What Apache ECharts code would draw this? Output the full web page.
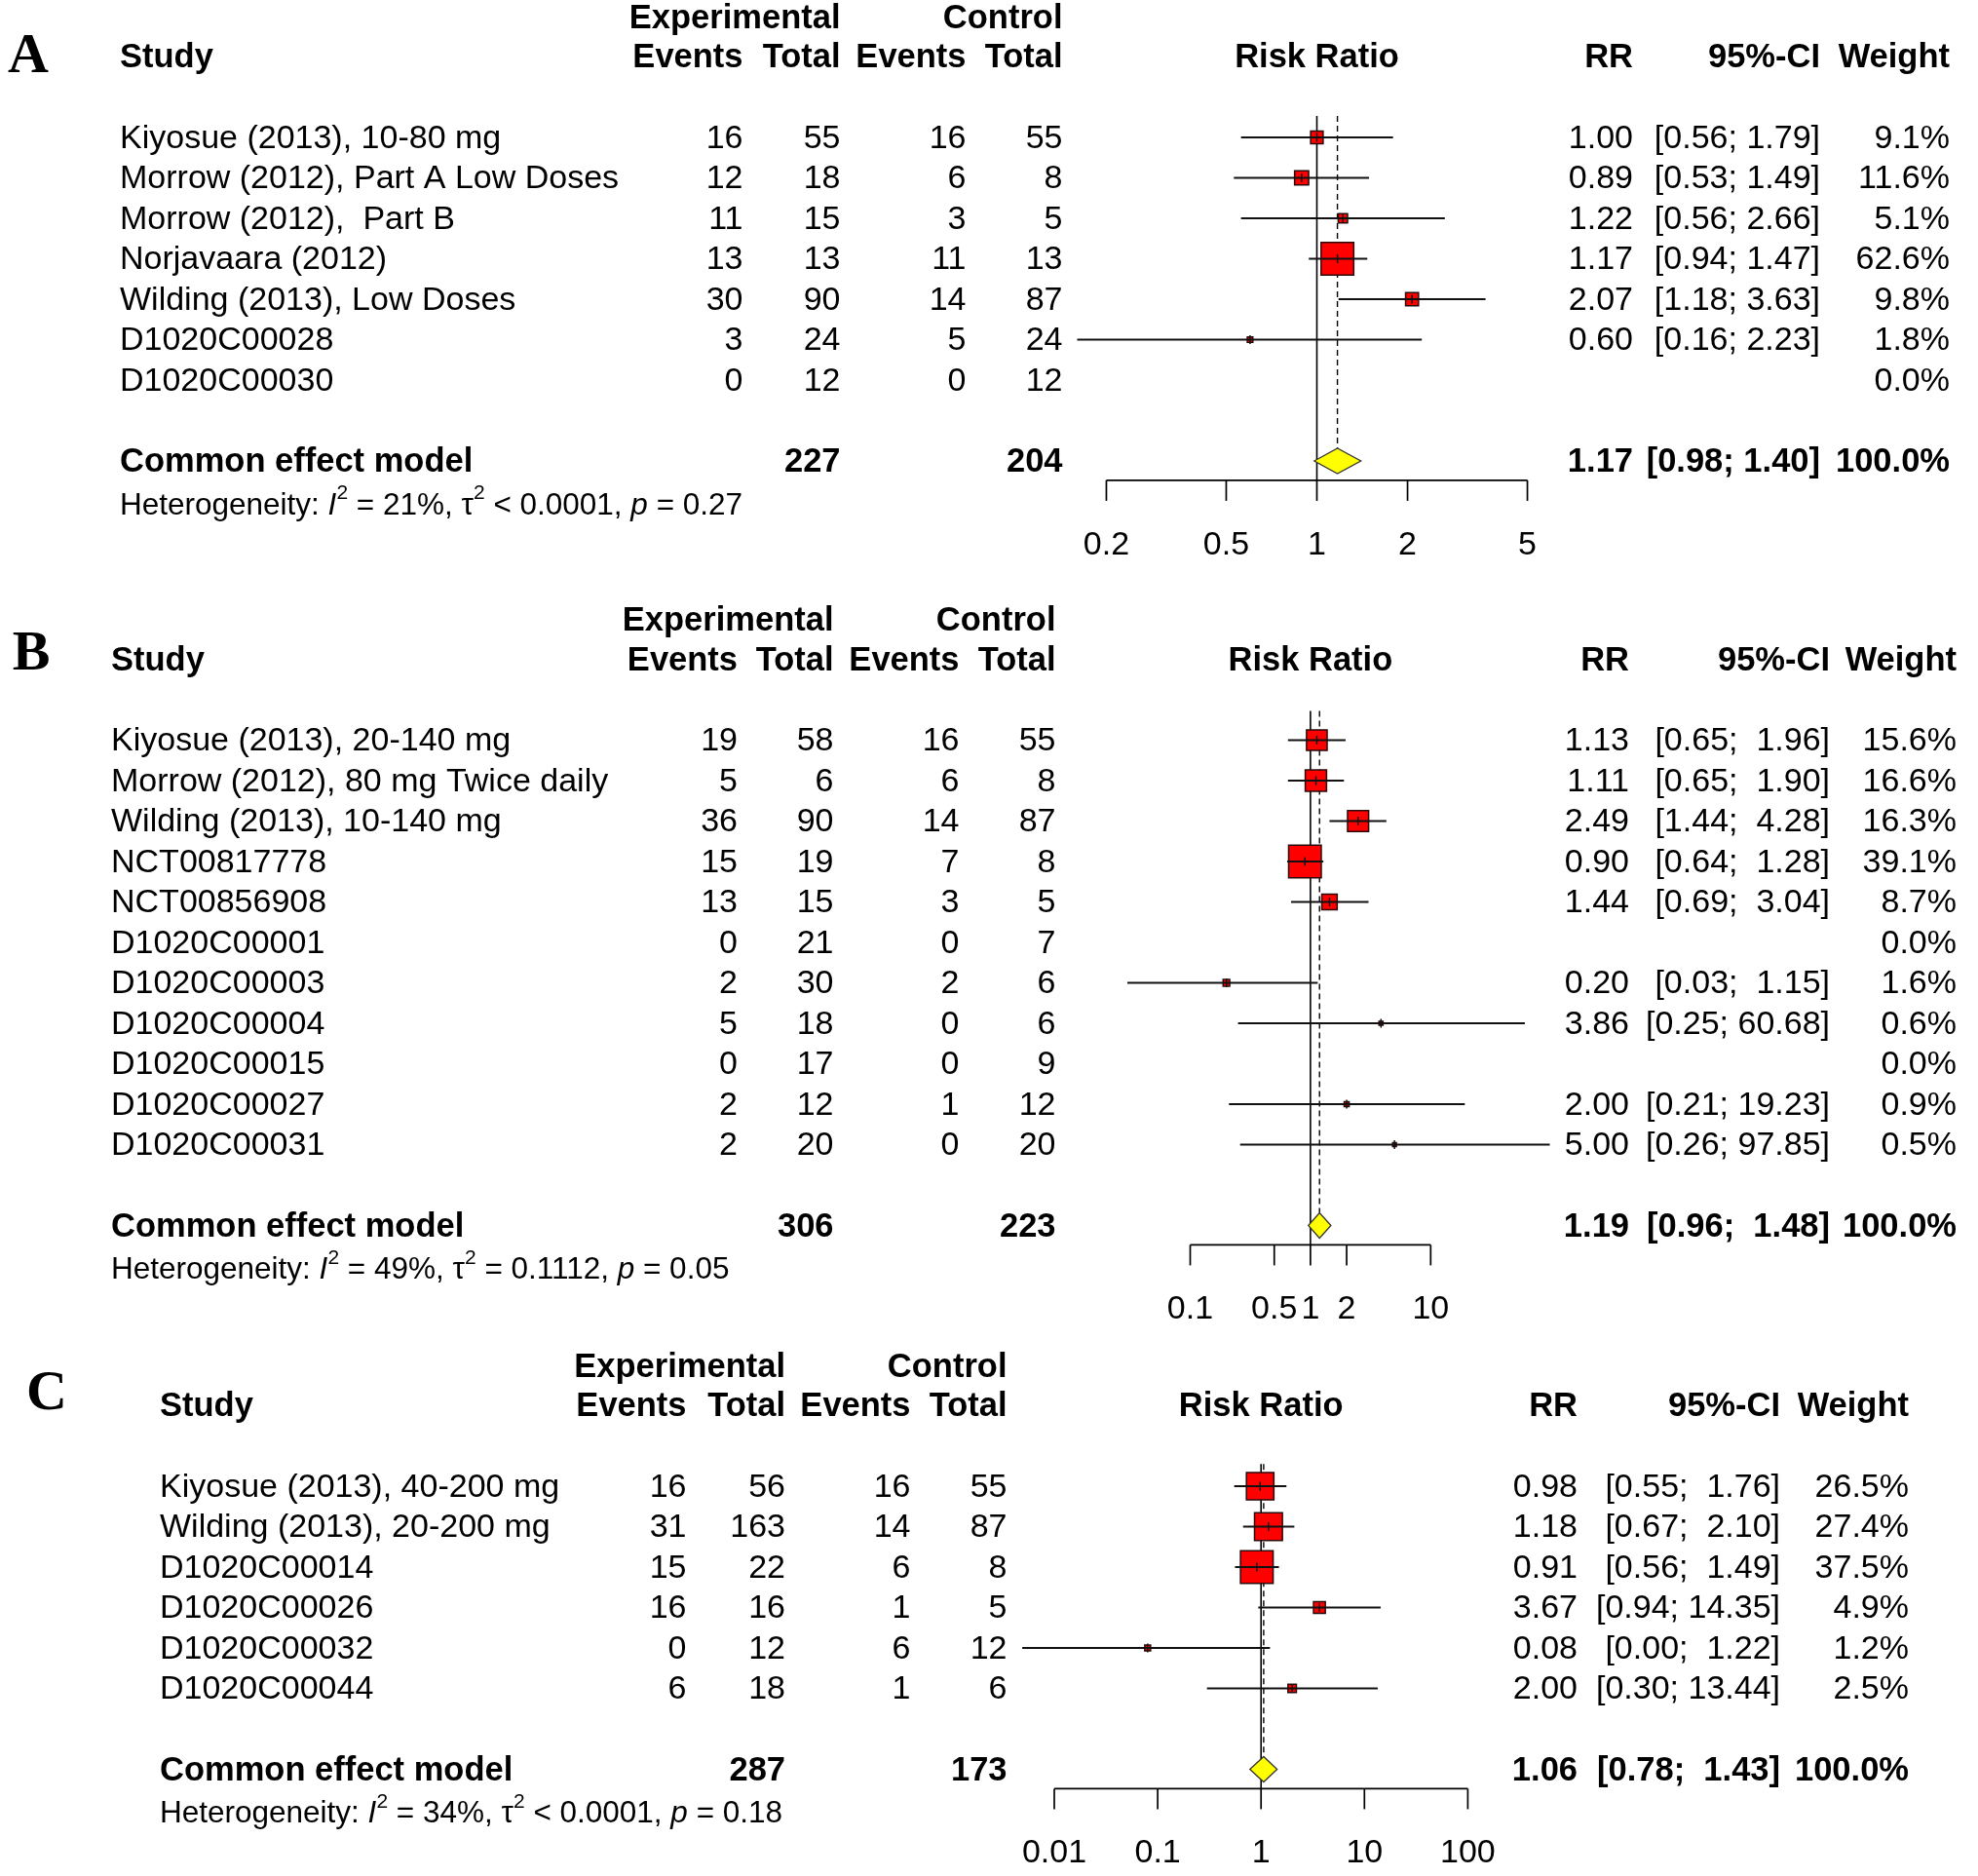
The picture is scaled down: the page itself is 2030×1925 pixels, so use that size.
<!DOCTYPE html>
<html><head><meta charset="utf-8">
<script src="https://cdn.jsdelivr.net/npm/echarts@6/dist/echarts.min.js"></script>
<style>html,body{margin:0;padding:0;background:#fff}#c{width:2030px;height:1925px}</style>
</head><body><div id="c"></div>
<script>
// ---------------- Panel A data ----------------
const studiesA = ["Kiyosue (2013), 10-80 mg", "Morrow (2012), Part A Low Doses", "Morrow (2012),  Part B", "Norjavaara (2012)", "Wilding (2013), Low Doses", "D1020C00028", "D1020C00030"];
const expEventsA = [16, 12, 11, 13, 30, 3, 0];
const expTotalA  = [55, 18, 15, 13, 90, 24, 12];
const ctrlEventsA = [16, 6, 3, 11, 14, 5, 0];
const ctrlTotalA  = [55, 8, 5, 13, 87, 24, 12];
const rrA = [1.00, 0.89, 1.22, 1.17, 2.07, 0.60, null];
const loA = [0.56, 0.53, 0.56, 0.94, 1.18, 0.16, null];
const hiA = [1.79, 1.49, 2.66, 1.47, 3.63, 2.23, null];
const weightA = [9.1, 11.6, 5.1, 62.6, 9.8, 1.8, 0.0];
const pooledA = [1.17, 0.98, 1.40, 100.0];
const totalsA = [227, 204];
const hetA = ["21%", "< 0.0001", "0.27"];
const ticksA = [0.2, 0.5, 1, 2, 5];

// ---------------- Panel B data ----------------
const studiesB = ["Kiyosue (2013), 20-140 mg", "Morrow (2012), 80 mg Twice daily", "Wilding (2013), 10-140 mg", "NCT00817778", "NCT00856908", "D1020C00001", "D1020C00003", "D1020C00004", "D1020C00015", "D1020C00027", "D1020C00031"];
const expEventsB = [19, 5, 36, 15, 13, 0, 2, 5, 0, 2, 2];
const expTotalB  = [58, 6, 90, 19, 15, 21, 30, 18, 17, 12, 20];
const ctrlEventsB = [16, 6, 14, 7, 3, 0, 2, 0, 0, 1, 0];
const ctrlTotalB  = [55, 8, 87, 8, 5, 7, 6, 6, 9, 12, 20];
const rrB = [1.13, 1.11, 2.49, 0.90, 1.44, null, 0.20, 3.86, null, 2.00, 5.00];
const loB = [0.65, 0.65, 1.44, 0.64, 0.69, null, 0.03, 0.25, null, 0.21, 0.26];
const hiB = [1.96, 1.90, 4.28, 1.28, 3.04, null, 1.15, 60.68, null, 19.23, 97.85];
const weightB = [15.6, 16.6, 16.3, 39.1, 8.7, 0.0, 1.6, 0.6, 0.0, 0.9, 0.5];
const pooledB = [1.19, 0.96, 1.48, 100.0];
const totalsB = [306, 223];
const hetB = ["49%", "= 0.1112", "0.05"];
const ticksB = [0.1, 0.5, 1, 2, 10];

// ---------------- Panel C data ----------------
const studiesC = ["Kiyosue (2013), 40-200 mg", "Wilding (2013), 20-200 mg", "D1020C00014", "D1020C00026", "D1020C00032", "D1020C00044"];
const expEventsC = [16, 31, 15, 16, 0, 6];
const expTotalC  = [56, 163, 22, 16, 12, 18];
const ctrlEventsC = [16, 14, 6, 1, 6, 1];
const ctrlTotalC  = [55, 87, 8, 5, 12, 6];
const rrC = [0.98, 1.18, 0.91, 3.67, 0.08, 2.00];
const loC = [0.55, 0.67, 0.56, 0.94, 0.0049, 0.30];
const hiC = [1.76, 2.10, 1.49, 14.35, 1.22, 13.44];
const weightC = [26.5, 27.4, 37.5, 4.9, 1.2, 2.5];
const pooledC = [1.06, 0.78, 1.43, 100.0];
const totalsC = [287, 173];
const hetC = ["34%", "< 0.0001", "0.18"];
const ticksC = [0.01, 0.1, 1, 10, 100];

// ---------------- layout (positions / styles only) ----------------
const FONT = "'Liberation Sans', Arial, Helvetica, sans-serif";
const SERIF = "'Liberation Serif', 'Times New Roman', serif";
const FS = 34, FS_BOLD = 34.5, FS_HET = 31.5, ROWH = 41.5, MAXSIDE = 33.5, DIAM_H = 13;

const panels = [
  { letter: 'A', studies: studiesA, expEv: expEventsA, expTot: expTotalA, ctrlEv: ctrlEventsA, ctrlTot: ctrlTotalA,
    rr: rrA, lo: loA, hi: hiA, weight: weightA, pooled: pooledA, totals: totalsA, het: hetA, ticks: ticksA,
    L: { row0: 141, common: 8, yMin: -3.2, yMax: 10.6, xMin: 0.1, xMax: 10, gridLeft: 1042.4, gridRight: 1660.6,
         studyX: 123, cols: [762.5, 862.5, 991.5, 1090.5], rrX: 1676, ciX: 1868, wX: 2001, letterX: 29, letterRow: -2.0, lineTop: -0.53 } },
  { letter: 'B', studies: studiesB, expEv: expEventsB, expTot: expTotalB, ctrlEv: ctrlEventsB, ctrlTot: ctrlTotalB,
    rr: rrB, lo: loB, hi: hiB, weight: weightB, pooled: pooledB, totals: totalsB, het: hetB, ticks: ticksB,
    L: { row0: 759.5, common: 12, yMin: -3.2, yMax: 14.6, xMin: 0.01, xMax: 100, gridLeft: 1098.1, gridRight: 1591.7,
         studyX: 114, cols: [757, 855.5, 984.5, 1083.5], rrX: 1672, ciX: 1878, wX: 2008, letterX: 32, letterRow: -2.14, lineTop: -0.72 } },
  { letter: 'C', studies: studiesC, expEv: expEventsC, expTot: expTotalC, ctrlEv: ctrlEventsC, ctrlTot: ctrlTotalC,
    rr: rrC, lo: loC, hi: hiC, weight: weightC, pooled: pooledC, totals: totalsC, het: hetC, ticks: ticksC,
    L: { row0: 1525, common: 7, yMin: -3.2, yMax: 9.6, xMin: 0.001, xMax: 1000, gridLeft: 975.9, gridRight: 1612.5,
         studyX: 164, cols: [704.5, 806, 934.5, 1033.5], rrX: 1619, ciX: 1827, wX: 1959, letterX: 48, letterRow: -2.31, lineTop: -0.55 } }
];

function ciText(lo, hi, width) {
  const h = hi.toFixed(2);
  return '[' + lo.toFixed(2) + ';' + ' '.repeat(1 + width - h.length) + h + ']';
}

function buildCells(P) {
  const L = P.L, cells = [];
  const add = (row, text, opt) => {
    const c = Object.assign({ row: row, text: text, size: FS, font: FONT, bold: false, align: 'right' }, opt);
    if (c.bold && !opt.size) c.size = FS_BOLD;
    cells.push(c);
  };
  const hiAll = P.hi.filter(v => v != null).concat([P.pooled[2]]).map(v => v.toFixed(2).length);
  const w = Math.max.apply(null, hiAll);
  add(L.letterRow, P.letter, { x: L.letterX, align: 'center', font: SERIF, size: 58, bold: true });
  add(-2.97, 'Experimental', { x: L.cols[1], bold: true });
  add(-2.97, 'Control', { x: L.cols[3], bold: true });
  add(-2, 'Study', { x: L.studyX, align: 'left', bold: true });
  ['Events', 'Total', 'Events', 'Total'].forEach((t, j) => add(-2, t, { x: L.cols[j], bold: true }));
  add(-2, 'Risk Ratio', { xv: 1, align: 'center', bold: true });
  add(-2, 'RR', { x: L.rrX, bold: true });
  add(-2, '95%-CI', { x: L.ciX, bold: true });
  add(-2, 'Weight', { x: L.wX, bold: true });
  P.studies.forEach((s, i) => {
    add(i, s, { x: L.studyX, align: 'left' });
    [P.expEv[i], P.expTot[i], P.ctrlEv[i], P.ctrlTot[i]].forEach((v, j) => add(i, String(v), { x: L.cols[j] }));
    if (P.rr[i] != null) {
      add(i, P.rr[i].toFixed(2), { x: L.rrX });
      add(i, ciText(P.lo[i], P.hi[i], w), { x: L.ciX });
    }
    add(i, P.weight[i].toFixed(1) + '%', { x: L.wX });
  });
  const c = L.common;
  add(c, 'Common effect model', { x: L.studyX, align: 'left', bold: true });
  add(c, String(P.totals[0]), { x: L.cols[1], bold: true });
  add(c, String(P.totals[1]), { x: L.cols[3], bold: true });
  add(c, P.pooled[0].toFixed(2), { x: L.rrX, bold: true });
  add(c, ciText(P.pooled[1], P.pooled[2], w), { x: L.ciX, bold: true });
  add(c, P.pooled[3].toFixed(1) + '%', { x: L.wX, bold: true });
  add(c + 1.07, 'Heterogeneity: {i|I}{s|2} = ' + P.het[0] + ', \u03c4{s|2} ' + P.het[1] + ', {i|p} = ' + P.het[2],
      { x: L.studyX, align: 'left', size: FS_HET, het: true });
  P.ticks.forEach(t => add(c + 2.05, String(t), { xv: t, align: 'center' }));
  return cells;
}

const series = [];
panels.forEach((P, k) => {
  const L = P.L;
  const axisRow = L.common + 0.48;
  // reference lines: null effect (solid) and pooled estimate (dashed)
  series.push({
    type: 'custom', xAxisIndex: k, yAxisIndex: k, z: 1, silent: true,
    data: [[1, L.lineTop, axisRow], [P.pooled[0], L.lineTop, L.common]],
    renderItem: (params, api) => {
      const a = api.coord([api.value(0), api.value(1)]);
      const b = api.coord([api.value(0), api.value(2)]);
      if (params.dataIndex === 0) {
        return { type: 'line', shape: { x1: a[0], y1: a[1], x2: b[0], y2: b[1] }, style: { stroke: '#000', lineWidth: 1.6 } };
      }
      return { type: 'line', shape: { x1: a[0], y1: a[1], x2: b[0], y2: b[1] - DIAM_H }, style: { stroke: '#000', lineWidth: 1.4, lineDash: [6, 4] } };
    }
  });
  // axis
  const t0 = P.ticks[0], t1 = P.ticks[P.ticks.length - 1];
  series.push({
    type: 'custom', xAxisIndex: k, yAxisIndex: k, z: 2, silent: true,
    data: P.ticks.map(t => [t, axisRow]),
    renderItem: (params, api) => {
      const p = api.coord([api.value(0), api.value(1)]);
      const children = [{ type: 'line', shape: { x1: p[0], y1: p[1], x2: p[0], y2: p[1] + 21 }, style: { stroke: '#000', lineWidth: 1.7 } }];
      if (params.dataIndex === 0) {
        const a = api.coord([t0, axisRow]), b = api.coord([t1, axisRow]);
        children.push({ type: 'line', shape: { x1: a[0], y1: a[1], x2: b[0], y2: b[1] }, style: { stroke: '#000', lineWidth: 1.7 } });
      }
      return { type: 'group', children: children };
    }
  });
  // studies: CI lines + squares
  const wmax = Math.max.apply(null, P.weight);
  const fd = [];
  P.rr.forEach((v, i) => { if (v != null) fd.push([v, i, P.lo[i], P.hi[i], P.weight[i]]); });
  series.push({
    type: 'custom', xAxisIndex: k, yAxisIndex: k, z: 3, silent: true,
    data: fd,
    renderItem: (params, api) => {
      const row = api.value(1);
      const p = api.coord([api.value(0), row]);
      const l = api.coord([api.value(2), row]);
      const h = api.coord([api.value(3), row]);
      const s = MAXSIDE * Math.sqrt(api.value(4) / wmax);
      return { type: 'group', children: [
        { type: 'rect', shape: { x: p[0] - s / 2, y: p[1] - s / 2, width: s, height: s }, style: { fill: '#ff0000', stroke: '#2a0a0a', lineWidth: 1.5 } },
        { type: 'line', shape: { x1: l[0], y1: p[1], x2: h[0], y2: p[1] }, style: { stroke: '#111', lineWidth: 1.8 } },
        { type: 'line', shape: { x1: p[0], y1: p[1] - 4.5, x2: p[0], y2: p[1] + 4.5 }, style: { stroke: '#111', lineWidth: 1.5 } }
      ] };
    }
  });
  // pooled diamond
  series.push({
    type: 'custom', xAxisIndex: k, yAxisIndex: k, z: 3, silent: true,
    data: [[P.pooled[0], L.common, P.pooled[1], P.pooled[2]]],
    renderItem: (params, api) => {
      const row = api.value(1);
      const p = api.coord([api.value(0), row]);
      const l = api.coord([api.value(2), row]);
      const h = api.coord([api.value(3), row]);
      return { type: 'polygon', shape: { points: [[l[0], p[1]], [p[0], p[1] - DIAM_H], [h[0], p[1]], [p[0], p[1] + DIAM_H]] },
               style: { fill: '#ffff00', stroke: '#333', lineWidth: 1.3 } };
    }
  });
  // text table
  const cells = buildCells(P);
  series.push({
    type: 'custom', xAxisIndex: k, yAxisIndex: k, z: 4, silent: true,
    data: cells.map(c => [c.xv || 1, c.row]),
    renderItem: (params, api) => {
      const c = cells[params.dataIndex];
      const p = api.coord([api.value(0), api.value(1)]);
      const style = { text: c.text, fill: '#000', fontFamily: c.font, fontSize: c.size,
                      fontWeight: c.bold ? 'bold' : 'normal', align: c.align, verticalAlign: 'middle' };
      if (c.het) {
        style.lineHeight = 46;
        style.rich = {
          i: { fontStyle: 'italic', fontSize: FS_HET, fontFamily: FONT, lineHeight: 46 },
          s: { fontSize: 21, fontFamily: FONT, lineHeight: 21, verticalAlign: 'top' }
        };
      }
      return { type: 'text', x: c.x != null ? c.x : p[0], y: p[1] + 1.5, style: style };
    }
  });
});

const chart = echarts.init(document.getElementById('c'), null, { renderer: 'canvas' });
chart.setOption({
  animation: false,
  backgroundColor: '#ffffff',
  grid: panels.map(P => ({ left: P.L.gridLeft, width: P.L.gridRight - P.L.gridLeft,
                          top: P.L.row0 + P.L.yMin * ROWH, height: (P.L.yMax - P.L.yMin) * ROWH })),
  xAxis: panels.map((P, k) => ({ type: 'log', logBase: 10, gridIndex: k, min: P.L.xMin, max: P.L.xMax, show: false })),
  yAxis: panels.map((P, k) => ({ type: 'value', gridIndex: k, min: P.L.yMin, max: P.L.yMax, inverse: true, show: false })),
  series: series
});
</script></body></html>
